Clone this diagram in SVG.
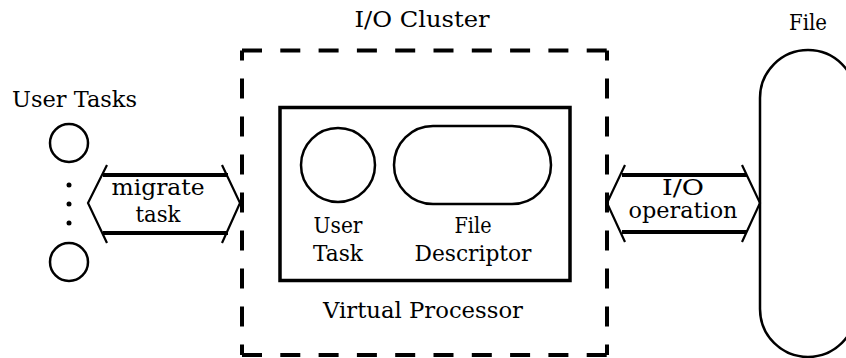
<svg xmlns="http://www.w3.org/2000/svg" width="846" height="358" viewBox="0 0 846 358">
<style>
text{font-family:"DejaVu Serif","Liberation Serif",serif;font-size:22px;fill:#000;text-anchor:middle}
.thin{fill:none;stroke:#000;stroke-width:2.5}
.bar{fill:none;stroke:#000;stroke-width:4}
.chev{fill:none;stroke:#000;stroke-width:2.2}
.dh{fill:none;stroke:#000;stroke-width:4;stroke-dasharray:20 18.3}
.dv{fill:none;stroke:#000;stroke-width:4;stroke-dasharray:20 18;stroke-dashoffset:10}
</style>
<rect width="846" height="358" fill="#fff"/>
<g id="user-tasks">
<text x="74.5" y="107" textLength="125" lengthAdjust="spacingAndGlyphs">User Tasks</text>
<circle class="thin" cx="69" cy="143" r="19"/>
<circle cx="69" cy="185" r="2.5"/>
<circle cx="69" cy="204" r="2.5"/>
<circle cx="69" cy="223" r="2.5"/>
<circle class="thin" cx="69" cy="262" r="19"/>
</g>
<g id="io-cluster">
<text x="422" y="27" textLength="135" lengthAdjust="spacingAndGlyphs">I/O Cluster</text>
<line class="dh" x1="242" y1="50.5" x2="607" y2="50.5"/>
<line class="dh" x1="242" y1="355" x2="607" y2="355"/>
<line class="dv" x1="242" y1="50.5" x2="242" y2="355"/>
<line class="dv" x1="607" y1="50.5" x2="607" y2="355"/>
</g>
<g id="virtual-processor">
<rect x="280" y="107.5" width="290" height="173" fill="none" stroke="#000" stroke-width="3.5"/>
<text x="423" y="318" textLength="200" lengthAdjust="spacingAndGlyphs">Virtual Processor</text>
</g>
<g id="user-task">
<circle class="thin" cx="338" cy="165" r="37"/>
<text x="338" y="233" textLength="49" lengthAdjust="spacingAndGlyphs">User</text>
<text x="338" y="261" textLength="50" lengthAdjust="spacingAndGlyphs">Task</text>
</g>
<g id="file-descriptor">
<rect class="thin" x="394" y="126" width="157" height="78" rx="39"/>
<text x="473" y="233" textLength="37" lengthAdjust="spacingAndGlyphs">File</text>
<text x="473" y="261" textLength="117" lengthAdjust="spacingAndGlyphs">Descriptor</text>
</g>
<g id="file">
<text x="808" y="30" textLength="38" lengthAdjust="spacingAndGlyphs">File</text>
<rect class="thin" x="760" y="50" width="96" height="307" rx="48"/>
</g>
<g id="connectors">
<g id="migrate-task">
<line class="bar" x1="103" y1="175" x2="228" y2="175"/>
<line class="bar" x1="103" y1="233" x2="228" y2="233"/>
<polyline class="chev" points="107,165 88,203 107,243"/>
<polyline class="chev" points="222,165 240,203 222,243"/>
<text x="158" y="195" textLength="93" lengthAdjust="spacingAndGlyphs">migrate</text>
<text x="158" y="222" textLength="45" lengthAdjust="spacingAndGlyphs">task</text>
</g>
<g id="io-operation">
<line class="bar" x1="622" y1="175" x2="747" y2="175"/>
<line class="bar" x1="622" y1="232" x2="747" y2="232"/>
<polyline class="chev" points="625,165 607,203 625,242"/>
<polyline class="chev" points="742,165 760,203 742,242"/>
<text x="683" y="195" textLength="42" lengthAdjust="spacingAndGlyphs">I/O</text>
<text x="683" y="218" textLength="109" lengthAdjust="spacingAndGlyphs">operation</text>
</g>
</g>
</svg>
